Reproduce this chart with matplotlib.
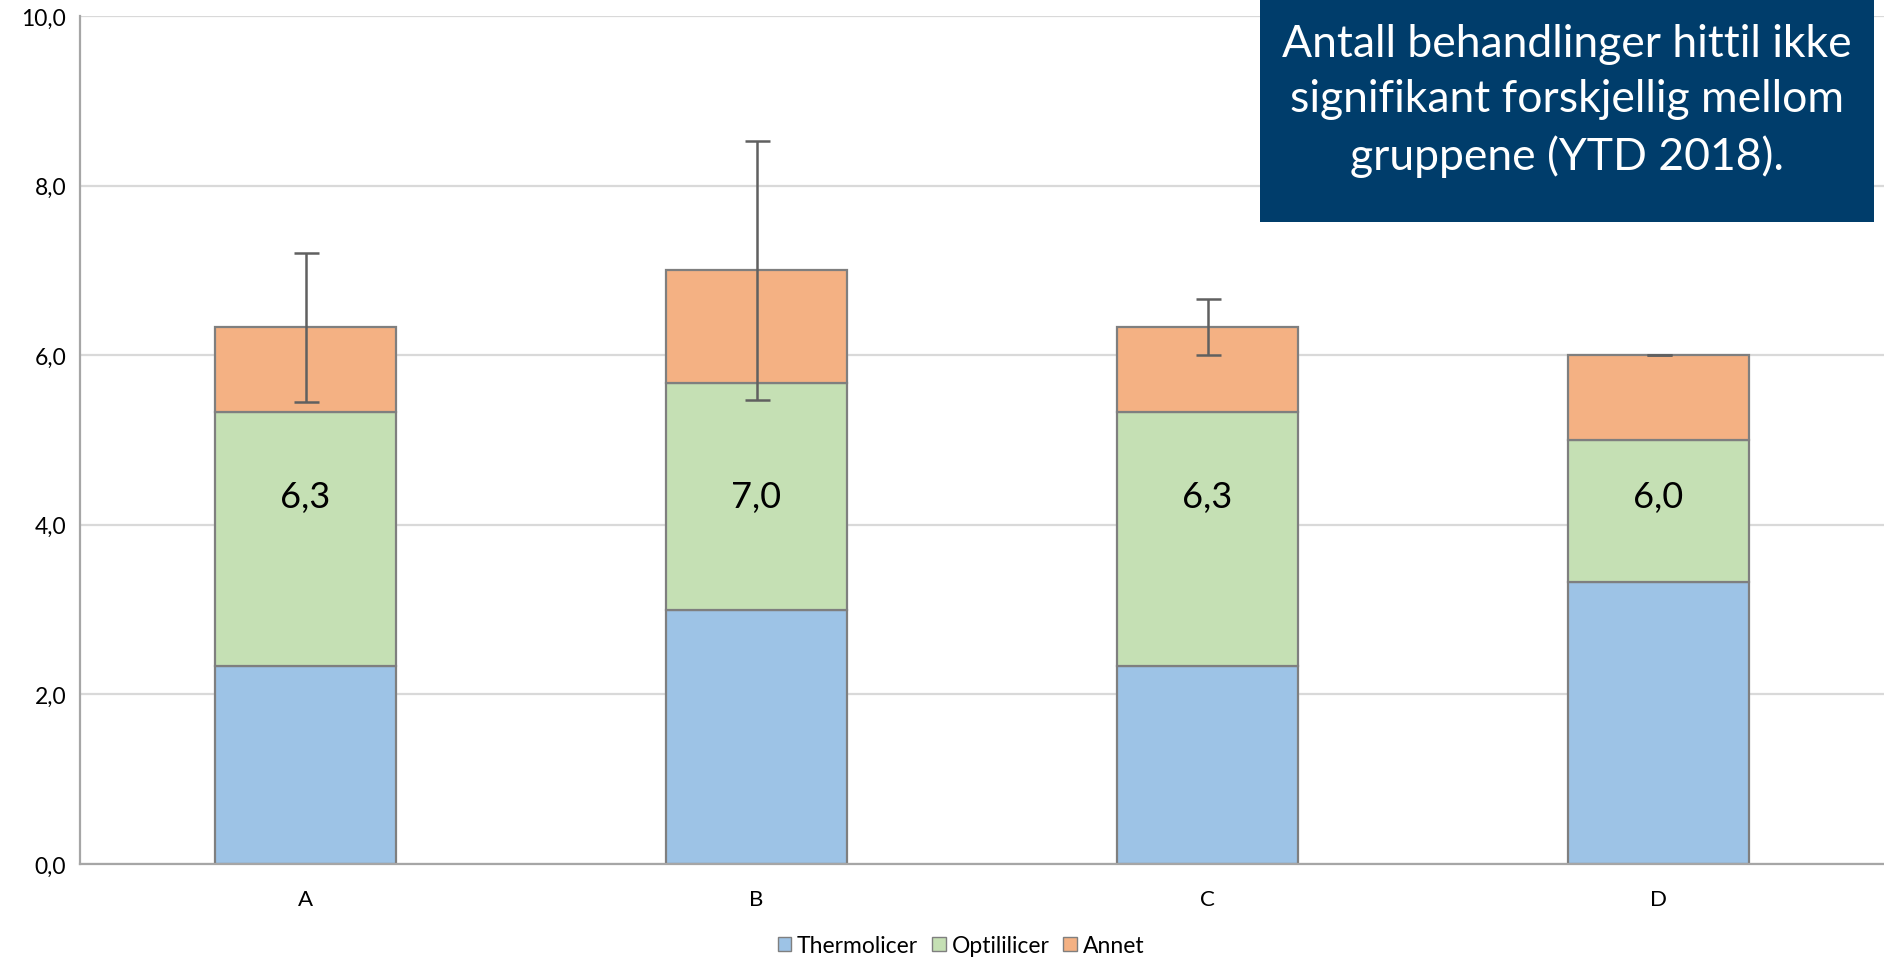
import numpy as np
import matplotlib.pyplot as plt
from matplotlib.patches import Patch

plt.rcParams['font.family'] = ['Lato', 'DejaVu Sans']

# data
groups = ['A', 'B', 'C', 'D']
thermolicer = [2.33, 3.0, 2.33, 3.33]
optililicer = [3.0, 2.67, 3.0, 1.67]
annet = [1.0, 1.33, 1.0, 1.0]
errors = [0.88, 1.53, 0.33, 0.0]
series_names = ['Thermolicer', 'Optililicer', 'Annet']
series_colors = ['#9DC3E6', '#C5E0B4', '#F4B183']
note_text = 'Antall behandlinger hittil ikke\nsignifikant forskjellig mellom\ngruppene (YTD 2018).'

totals = np.array(thermolicer) + np.array(optililicer) + np.array(annet)
x = np.arange(len(groups))

fig = plt.figure(figsize=(18.84, 9.62), dpi=100)
ax = fig.add_axes([0.0425, 0.1008, 0.9575, 0.8815])

bottom = np.zeros(len(groups))
for vals, name, col in zip([thermolicer, optililicer, annet], series_names, series_colors):
    ax.bar(x, vals, width=0.4, bottom=bottom, color=col, edgecolor='#7F7F7F',
           linewidth=1.6, label=name, zorder=2)
    bottom += np.array(vals)

ax.errorbar(x, totals, yerr=errors, fmt='none', ecolor='#606060', elinewidth=1.8,
            capsize=9, capthick=1.8, zorder=3)

for xi, t in zip(x, totals):
    ax.text(xi, 4.33, f'{t:.1f}'.replace('.', ','), ha='center', va='center',
            fontsize=26, color='black', zorder=4)

ax.set_xlim(-0.5, 3.5)
ax.set_ylim(0, 10)
ax.set_yticks(np.arange(0, 10.1, 2))
ax.set_yticklabels([f'{v:.1f}'.replace('.', ',') for v in np.arange(0, 10.1, 2)], fontsize=16.5)
ax.set_xticks(x)
ax.set_xticklabels(groups, fontsize=16)
ax.tick_params(axis='both', length=0)
ax.tick_params(axis='x', pad=18)
ax.tick_params(axis='y', pad=10)
ax.grid(axis='y', color='#D9D9D9', linewidth=1.6, zorder=0)
ax.set_axisbelow(True)
for s in ['top', 'right']:
    ax.spines[s].set_visible(False)
ax.spines['left'].set_color('#A6A6A6')
ax.spines['left'].set_linewidth(1.6)
ax.spines['bottom'].set_color('#A6A6A6')
ax.spines['bottom'].set_linewidth(1.6)

handles = [Patch(facecolor=c, edgecolor='#7F7F7F', label=n) for n, c in zip(series_names, series_colors)]
fig.legend(handles=handles, loc='center', bbox_to_anchor=(0.51, 0.016), ncol=3, frameon=False,
           fontsize=16.5, handlelength=0.6, handleheight=0.6, handletextpad=0.25, columnspacing=0.6)

# note box in the upper right corner
fig.patches.append(plt.Rectangle((1260 / 1884, 1 - 223 / 962), 614 / 1884, 223 / 962,
                                 transform=fig.transFigure, facecolor='#003D6B',
                                 edgecolor='none', zorder=5))
fig.text((1260 + 614 / 2) / 1884, 1 - 101 / 962, note_text, ha='center', va='center',
         color='white', fontsize=32, linespacing=1.42, zorder=6)

fig.savefig('out.png', dpi=100)
